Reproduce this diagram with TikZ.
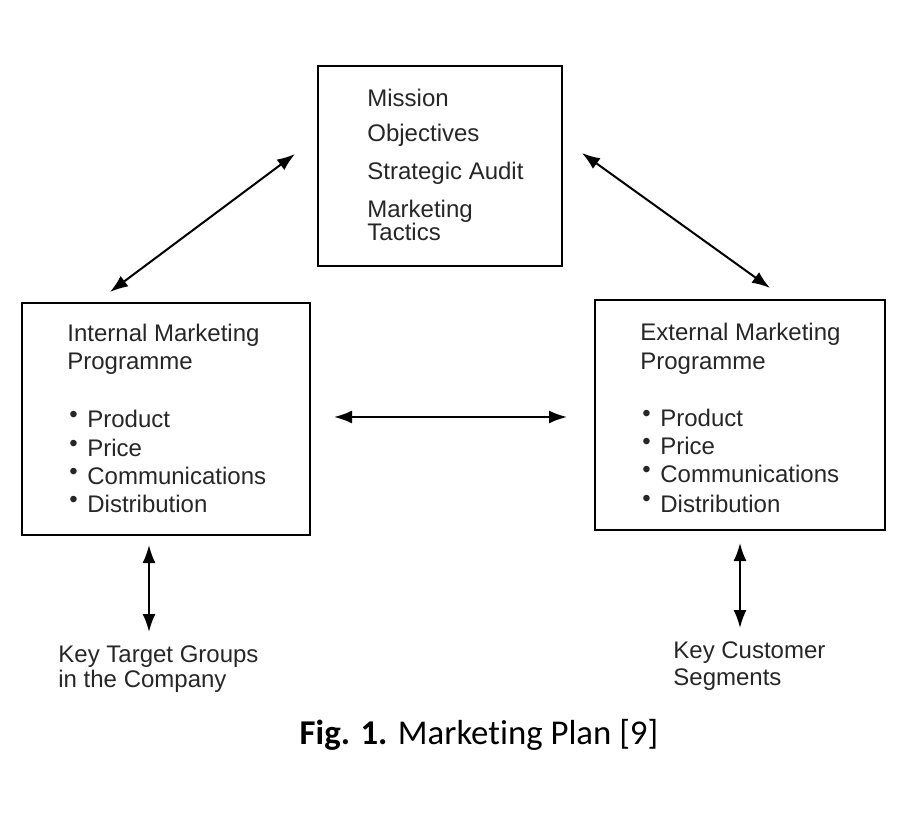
\documentclass[tikz,border=0pt]{standalone}
\usepackage{fontspec}
\setmainfont{Liberation Sans}
\newfontfamily\capfont[Ligatures=NoCommon]{Carlito}
\usetikzlibrary{arrows.meta}
\newcommand{\bul}{\raisebox{.22em}{\textbullet}\hspace{.4em}}

\begin{document}
\begin{tikzpicture}[x=0.5pt,y=-0.5pt,
	box/.style={draw,line width=1pt,inner sep=0pt},
	txt/.style={anchor=base west,inner sep=0pt,font=\fontsize{12}{14}\selectfont,text=black!85},
	link/.style={line width=1pt,{Latex[length=9pt,width=6.5pt]}-{Latex[length=9pt,width=6.5pt]}}]
			\useasboundingbox (0,0) rectangle (906,834);
			% Kasten oben
			\node[box,minimum width=122pt,minimum height=100pt] (plan) at (440,166) {};
			\node[txt] (mission) at (367,107) {Mission};
			\node[txt] (objectives) at (367,142) {Objectives};
			\node[txt] (audit) at (367,180) {Strategic Audit};
			\node[txt] (tactics1) at (367,218) {Marketing};
			\node[txt] (tactics2) at (367,241) {Tactics};
			% intern
			\node[box,minimum width=144pt,minimum height=116pt] (int) at (166,419) {};
			\node[txt] (int1) at (67,342) {Internal Marketing};
			\node[txt] (int2) at (67,370) {Programme};
			\node[txt] (intprod) at (69,428) {\bul Product};
			\node[txt] (intprice) at (69,457) {\bul Price};
			\node[txt] (intcomm) at (69,485) {\bul Communications};
			\node[txt] (intdist) at (69,513) {\bul Distribution};
			% extern
			\node[box,minimum width=145pt,minimum height=115pt] (ext) at (740,415) {};
			\node[txt] (ext1) at (640,341) {External Marketing};
			\node[txt] (ext2) at (640,370) {Programme};
			\node[txt] (extprod) at (642,427) {\bul Product};
			\node[txt] (extprice) at (642,455) {\bul Price};
			\node[txt] (extcomm) at (642,483) {\bul Communications};
			\node[txt] (extdist) at (642,512) {\bul Distribution};
			% Zielgruppen
			\node[txt] (groups1) at (58,662) {Key Target Groups};
			\node[txt] (groups2) at (58,687) {in the Company};
			\node[txt] (segm1) at (673,658) {Key Customer};
			\node[txt] (segm2) at (673,685) {Segments};
			% Pfeile
			\coordinate (pl) at (295,154);
			\coordinate (il) at (110,292);
			\coordinate (pr) at (582,153);
			\coordinate (er) at (770,288);
			\coordinate (ib) at (149,545);
			\coordinate (gt) at (149,632);
			\coordinate (eb) at (740,543);
			\coordinate (st) at (740,628);
			\draw[link] (il) -- (pl);
			\draw[link] (pr) -- (er);
			\draw[link,shorten <=11.5pt,shorten >=13.5pt] (int.east |- 0,417) -- (ext.west |- 0,417);
			\draw[link] (ib) -- (gt);
			\draw[link] (eb) -- (st);
			% Bildunterschrift
			\node[anchor=base,inner sep=0pt,font=\capfont\fontsize{17.4}{20}\selectfont] (caption) at (479,744) {\textbf{Fig. 1.} Marketing Plan [9]};
\end{tikzpicture}
\end{document}
